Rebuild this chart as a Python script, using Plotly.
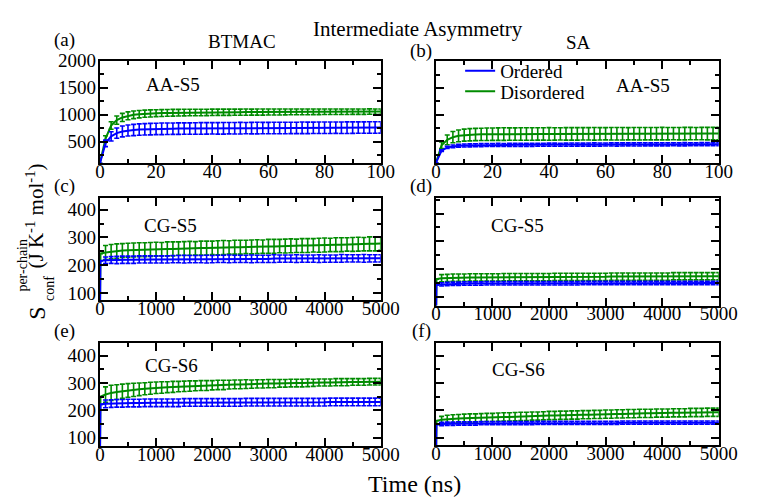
import plotly.graph_objects as go

W, H = 759, 498
FONT = "Liberation Serif, Times New Roman, serif"
BLUE = "rgb(0,0,255)"
GREEN = "rgb(0,139,0)"

# ---------------- data ----------------
t_aa = list(range(0, 101, 2))                  # ns, AA runs
t_cg = [0, 10] + list(range(100, 5001, 100))   # ns, CG runs

# (a) BTMAC AA-S5
a_ord = [100, 470, 600, 660, 690, 708, 718, 725, 730, 734, 737,
         739, 741, 742, 743, 744, 745, 745, 746, 747, 748,
         748, 749, 750, 750, 751, 752, 752, 753, 753, 754,
         754, 755, 755, 756, 756, 757, 757, 758, 758, 759,
         759, 760, 760, 761, 761, 762, 762, 763, 763, 764]
a_ord_err = [0, 60, 85, 95, 100, 102, 104, 105, 105, 106, 106,
             107, 106, 105, 107, 106, 105, 107, 108, 106, 105,
             106, 107, 105, 106, 107, 105, 106, 107, 106, 105,
             106, 107, 106, 105, 106, 107, 106, 105, 106, 107,
             106, 105, 106, 107, 106, 105, 106, 107, 106, 105]
a_dis = [100, 560, 800, 900, 950, 980, 998, 1010, 1018, 1024, 1028,
         1031, 1034, 1036, 1038, 1039, 1040, 1041, 1042, 1043, 1044,
         1045, 1045, 1046, 1047, 1047, 1048, 1048, 1049, 1049, 1050,
         1050, 1051, 1051, 1052, 1052, 1053, 1053, 1054, 1054, 1055,
         1055, 1055, 1056, 1056, 1057, 1057, 1057, 1058, 1058, 1058]
a_dis_err = [0, 50, 70, 75, 75, 72, 70, 68, 66, 65, 64,
             63, 62, 62, 61, 61, 60, 60, 60, 59, 59,
             58, 58, 58, 57, 57, 57, 56, 56, 56, 55,
             55, 55, 54, 54, 54, 53, 53, 53, 52, 52,
             52, 51, 51, 51, 50, 50, 50, 50, 49, 49]

# (b) SA AA-S5
b_ord = [100, 330, 390, 410, 420, 425, 428, 430, 432, 433, 434,
         435, 435, 436, 437, 437, 438, 438, 439, 439, 440,
         440, 440, 441, 441, 442, 442, 442, 443, 443, 443,
         444, 444, 444, 445, 445, 445, 446, 446, 446, 447,
         447, 447, 447, 448, 448, 448, 449, 449, 449, 450]
b_ord_err = [0, 15, 22, 25, 26, 27, 28, 28, 28, 28, 28,
             29, 28, 29, 28, 29, 30, 29, 28, 29, 30,
             29, 28, 29, 30, 29, 28, 29, 30, 29, 28,
             29, 30, 29, 28, 29, 30, 29, 28, 29, 30,
             29, 28, 29, 30, 29, 28, 29, 30, 29, 28]
b_dis = [100, 430, 530, 580, 605, 618, 625, 630, 633, 635, 636,
         637, 638, 638, 639, 639, 640, 640, 640, 641, 641,
         641, 642, 642, 642, 642, 643, 643, 643, 643, 644,
         644, 644, 644, 644, 645, 645, 645, 645, 645, 646,
         646, 646, 646, 646, 647, 647, 647, 647, 647, 648]
b_dis_err = [0, 60, 90, 105, 110, 112, 114, 115, 115, 116, 116,
             116, 117, 116, 115, 116, 117, 116, 115, 116, 117,
             116, 115, 116, 117, 116, 115, 116, 117, 116, 115,
             116, 117, 116, 115, 116, 117, 116, 115, 116, 117,
             116, 115, 116, 117, 116, 115, 116, 117, 116, 115]

# (c) BTMAC CG-S5
c_ord = [0, 216, 218, 219, 219, 220, 220, 220, 221, 221, 221, 221,
         221, 221, 222, 222, 222, 222, 222, 222, 222, 222,
         223, 223, 223, 223, 223, 223, 223, 223, 223, 223,
         224, 224, 224, 224, 224, 224, 224, 224, 224, 224,
         224, 224, 225, 225, 225, 225, 225, 225, 225, 225]
c_ord_err = [None, None, 12, 12, 13, 13, 13, 13, 13, 13, 13, 13,
             13, 13, 13, 13, 14, 13, 13, 13, 14, 13,
             13, 13, 14, 13, 13, 13, 14, 13, 13, 13,
             14, 13, 13, 13, 14, 13, 13, 13, 14, 13,
             13, 13, 14, 13, 13, 13, 14, 13, 13, 13]
c_dis = [0, 242, 246, 249, 251, 253, 254, 255, 256, 256, 257, 258,
         258, 259, 259, 260, 260, 261, 261, 262, 262, 263,
         263, 264, 264, 265, 265, 266, 266, 267, 267, 268,
         268, 269, 269, 270, 270, 271, 271, 272, 272, 273,
         273, 274, 274, 275, 275, 276, 276, 277, 277, 278]
c_dis_err = [None, None, 25, 26, 26, 25, 25, 25, 25, 25, 25, 25,
             24, 25, 25, 24, 25, 25, 24, 25, 25, 24,
             25, 25, 24, 25, 25, 24, 25, 25, 24, 25,
             25, 24, 25, 25, 24, 25, 25, 24, 25, 25,
             24, 25, 25, 24, 25, 25, 24, 25, 25, 24]

# (d) SA CG-S5
d_ord = [0, 144, 146, 147, 148, 148, 149, 149, 149, 149, 150, 150,
         150, 150, 150, 150, 150, 150, 150, 150, 150, 150,
         150, 150, 150, 150, 150, 151, 151, 151, 151, 151,
         151, 151, 151, 151, 151, 151, 151, 151, 151, 151,
         151, 151, 151, 151, 151, 151, 151, 151, 151, 151]
d_ord_err = [None, None, 6, 6, 6, 6, 6, 6, 6, 6, 6, 6,
             6, 6, 6, 6, 6, 6, 6, 6, 6, 6,
             6, 6, 6, 6, 6, 6, 6, 6, 6, 6,
             6, 6, 6, 6, 6, 6, 6, 6, 6, 6,
             6, 6, 6, 6, 6, 6, 6, 6, 6, 6]
d_dis = [0, 165, 168, 169, 170, 170, 170, 171, 171, 171, 171, 171,
         171, 172, 172, 172, 172, 172, 172, 172, 172, 172,
         173, 173, 173, 173, 173, 173, 173, 173, 173, 173,
         174, 174, 174, 174, 174, 174, 174, 174, 174, 174,
         174, 175, 175, 175, 175, 175, 175, 175, 175, 175]
d_dis_err = [None, None, 13, 13, 13, 13, 13, 13, 13, 13, 13, 13,
             13, 13, 13, 13, 13, 13, 13, 13, 13, 13,
             13, 13, 13, 13, 13, 13, 13, 13, 13, 13,
             13, 13, 13, 13, 13, 13, 13, 13, 13, 13,
             13, 13, 13, 13, 13, 13, 13, 13, 13, 13]

# (e) BTMAC CG-S6
e_ord = [0, 222, 224, 225, 226, 226, 227, 227, 227, 228, 228, 228,
         228, 228, 228, 228, 229, 229, 229, 229, 229, 229,
         229, 229, 229, 229, 229, 230, 230, 230, 230, 230,
         230, 230, 230, 230, 230, 230, 230, 230, 230, 230,
         231, 231, 231, 231, 231, 231, 231, 231, 231, 231]
e_ord_err = [None, None, 14, 14, 14, 14, 14, 14, 14, 14, 14, 14,
             14, 14, 14, 14, 14, 14, 14, 14, 14, 14,
             14, 14, 14, 14, 14, 14, 14, 14, 14, 14,
             14, 14, 14, 14, 14, 14, 14, 14, 14, 14,
             14, 14, 14, 14, 14, 14, 14, 14, 14, 14]
e_dis = [0, 250, 258, 264, 267, 270, 273, 275, 277, 279, 281, 283,
         284, 285, 286, 287, 288, 289, 290, 291, 291, 292,
         293, 293, 294, 295, 295, 296, 296, 297, 297, 298,
         298, 299, 299, 300, 300, 300, 301, 301, 302, 302,
         302, 303, 303, 303, 304, 304, 304, 305, 305, 305]
e_dis_err = [None, None, 28, 28, 27, 26, 25, 24, 23, 22, 22, 21,
             21, 20, 20, 19, 19, 19, 18, 18, 18, 17,
             17, 17, 16, 16, 16, 16, 15, 15, 15, 15,
             15, 14, 14, 14, 14, 14, 14, 13, 13, 13,
             13, 13, 13, 13, 12, 12, 12, 12, 12, 12]

# (f) SA CG-S6
f_ord = [0, 148, 150, 151, 151, 152, 152, 152, 152, 153, 153, 153,
         153, 153, 153, 153, 153, 153, 153, 154, 154, 154,
         154, 154, 154, 154, 154, 154, 154, 154, 154, 154,
         154, 154, 155, 155, 155, 155, 155, 155, 155, 155,
         155, 155, 155, 155, 155, 155, 155, 155, 155, 155]
f_ord_err = [None, None, 6, 6, 6, 6, 6, 6, 6, 6, 6, 6,
             6, 6, 6, 6, 6, 6, 6, 6, 6, 6,
             6, 6, 6, 6, 6, 6, 6, 6, 6, 6,
             6, 6, 6, 6, 6, 6, 6, 6, 6, 6,
             6, 6, 6, 6, 6, 6, 6, 6, 6, 6]
f_dis = [0, 162, 166, 168, 169, 170, 171, 172, 172, 173, 174, 174,
         175, 176, 176, 177, 178, 178, 179, 179, 180, 181,
         181, 182, 182, 183, 183, 184, 184, 185, 185, 186,
         186, 187, 187, 188, 188, 189, 189, 189, 190, 190,
         190, 191, 191, 191, 192, 192, 192, 193, 193, 193]
f_dis_err = [None, None, 12, 14, 15, 15, 15, 15, 15, 15, 15, 15,
             15, 15, 15, 15, 15, 15, 15, 15, 15, 15,
             15, 15, 15, 15, 15, 15, 15, 15, 15, 15,
             15, 15, 15, 15, 15, 15, 15, 15, 15, 15,
             15, 15, 15, 15, 15, 15, 15, 15, 15, 15]

series_names = ["Ordered", "Disordered"]

# ---------------- layout helpers ----------------
def px_x(p):
    return p / W

def px_y(p):
    return 1 - p / H

panels = [
    ("x", "y", t_aa, a_ord, a_ord_err, a_dis, a_dis_err, [0, 100], [100, 2000], (98, 388), (52, 157.5), 20, 10, 500, 250, True),
    ("x2", "y2", t_aa, b_ord, b_ord_err, b_dis, b_dis_err, [0, 100], [100, 2000], (445, 737), (52.5, 157), 20, 10, 500, 250, False),
    ("x3", "y3", t_cg, c_ord, c_ord_err, c_dis, c_dis_err, [0, 5000], [74.5, 442], (98, 388), (193, 298), 1000, 500, 100, 50, True),
    ("x4", "y4", t_cg, d_ord, d_ord_err, d_dis, d_dis_err, [0, 5000], [70, 454], (445, 737), (193.5, 303.5), 1000, 500, 100, 50, False),
    ("x5", "y5", t_cg, e_ord, e_ord_err, e_dis, e_dis_err, [0, 5000], [69, 446], (98, 388), (342, 448), 1000, 500, 100, 50, True),
    ("x6", "y6", t_cg, f_ord, f_ord_err, f_dis, f_dis_err, [0, 5000], [72, 446], (445, 737), (342, 447), 1000, 500, 100, 50, False),
]

fig = go.Figure()
layout = dict(
    width=W, height=H,
    margin=dict(l=0, r=0, t=0, b=0),
    paper_bgcolor="white", plot_bgcolor="white",
    font=dict(family=FONT, size=19, color="black"),
    showlegend=True,
)

tickfont = dict(family=FONT, size=19, color="black")

for (xa, ya, t, o, oe, d, de, xr, yr, xd, yd, xdt, xmn, ydt, ymn, showy) in panels:
    for vals, errs, col in ((d, de, GREEN), (o, oe, BLUE)):
        fig.add_trace(go.Scatter(
            x=t, y=vals, mode="lines", xaxis=xa, yaxis=ya,
            line=dict(color=col, width=2),
            error_y=dict(type="data", array=errs, visible=True, color=col,
                         thickness=1.6, width=2.5),
            showlegend=False, hoverinfo="skip",
        ))
    xkey = "xaxis" + xa[1:]
    ykey = "yaxis" + ya[1:]
    common = dict(showline=True, linecolor="black", linewidth=2, mirror="allticks",
                  ticks="inside", ticklen=8, tickwidth=2, tickcolor="black",
                  showgrid=False, zeroline=False, tickfont=tickfont, tick0=0)
    layout[xkey] = dict(common, range=xr, domain=[px_x(xd[0]), px_x(xd[1])], anchor=ya,
                        dtick=xdt, ticklabelstandoff=-10,
                        minor=dict(dtick=xmn, tick0=0, ticks="inside", ticklen=4,
                                   tickwidth=2, tickcolor="black", showgrid=False))
    layout[ykey] = dict(common, range=yr, domain=[px_y(yd[1]), px_y(yd[0])], anchor=xa,
                        dtick=ydt, showticklabels=showy, ticklabelstandoff=-2,
                        minor=dict(dtick=ymn, tick0=0, ticks="inside", ticklen=4,
                                   tickwidth=2, tickcolor="black", showgrid=False))

# legend-only traces, one per legend so the rows sit close together
for name, col, lg in zip(series_names, (BLUE, GREEN), ("legend", "legend2")):
    fig.add_trace(go.Scatter(x=[None], y=[None], mode="lines", name=name, legend=lg,
                             line=dict(color=col, width=2), xaxis="x2", yaxis="y2"))

leg_common = dict(xanchor="left", yanchor="top", bgcolor="rgba(0,0,0,0)",
                  font=dict(family=FONT, size=19, color="black"), itemwidth=30)
layout["legend"] = dict(leg_common, x=px_x(470), y=px_y(43))
layout["legend2"] = dict(leg_common, x=px_x(470), y=px_y(64))

texts = [
    ("(a)", 61, 31, 19, 0), ("BTMAC", 245, 32, 19, 0),
    ("Intermediate Asymmetry", 427, 20, 21, 0),
    ("(b)", 430, 42, 19, 0), ("SA", 592, 33, 19, 0),
    ("AA-S5", 174, 77, 19, 0), ("AA-S5", 659, 78, 19, 0),
    ("(c)", 61, 181, 19, 0), ("(d)", 430, 181, 19, 0),
    ("CG-S5", 171, 221, 19, 0), ("CG-S5", 529, 221, 19, 0),
    ("(e)", 61, 330, 19, 0), ("(f)", 430, 330, 19, 0),
    ("CG-S6", 172, 365, 19, 0), ("CG-S6", 530, 369, 19, 0),
    ("Time (ns)", 423, 487, 24, 0),
    ("S", 33, 311, 24, -90),
    ("conf", 46, 286, 14, -90),
    ("per-chain", 18, 262, 14, -90),
    ("(J K<sup>-1</sup> mol<sup>-1</sup>)", 31, 212, 21, -90),
]
ann = []
for txt, x, y, s, ang in texts:
    ann.append(dict(text=txt, x=px_x(x), y=px_y(y), xref="paper", yref="paper",
                    xanchor="center", yanchor="middle", showarrow=False,
                    textangle=ang, font=dict(family=FONT, size=s, color="black")))
layout["annotations"] = ann

fig.update_layout(**layout)
fig.write_html("out.html")
